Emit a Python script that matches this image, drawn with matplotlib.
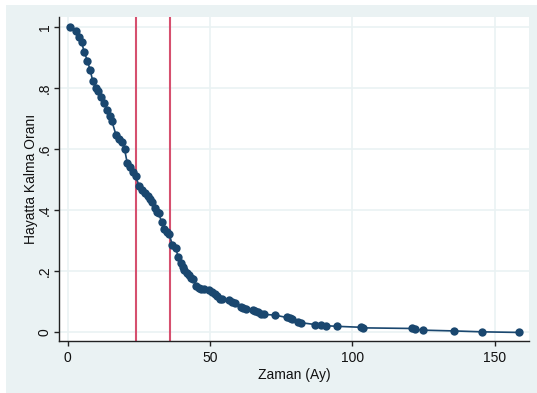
import numpy as np
import matplotlib
matplotlib.use("Agg")
import matplotlib.pyplot as plt
from matplotlib.patches import Rectangle

# survival estimates
zaman = [0.8, 2.8, 4.0, 4.9, 5.8, 6.9, 7.9, 8.8, 9.8, 10.8, 11.8, 12.9, 13.9, 14.9,
         15.5, 17.0, 18.0, 19.1, 20.0, 20.9, 21.9, 22.8, 23.9, 25.1, 26.1, 27.0,
         28.1, 28.9, 29.7, 30.7, 31.4, 32.0, 33.0, 33.8, 34.8, 35.7, 36.8, 37.9,
         38.9, 39.7, 40.4, 41.0, 41.8, 42.6, 43.4, 44.1, 45.1, 46.0, 46.9, 47.9,
         49.8, 50.8, 51.7, 52.6, 53.5, 54.1, 56.7, 57.6, 58.8, 60.9, 61.7, 62.7,
         65.0, 65.9, 67.0, 67.9, 68.9, 72.8, 76.9, 78.1, 78.9, 81.0, 81.9, 86.9,
         88.9, 90.9, 94.7, 102.9, 103.9, 121.1, 121.9, 124.8, 135.7, 145.7, 158.6]
oran = [1.0, 0.988, 0.966, 0.95, 0.919, 0.89, 0.859, 0.824, 0.80, 0.79, 0.77, 0.75,
        0.728, 0.708, 0.693, 0.646, 0.632, 0.624, 0.60, 0.556, 0.542, 0.526, 0.512,
        0.479, 0.468, 0.457, 0.446, 0.436, 0.426, 0.406, 0.393, 0.39, 0.362, 0.338,
        0.33, 0.321, 0.286, 0.277, 0.246, 0.226, 0.213, 0.204, 0.196, 0.188, 0.179,
        0.176, 0.152, 0.147, 0.143, 0.141, 0.139, 0.132, 0.125, 0.119, 0.111, 0.108,
        0.106, 0.100, 0.095, 0.084, 0.080, 0.077, 0.074, 0.071, 0.066, 0.062, 0.059,
        0.057, 0.049, 0.046, 0.044, 0.035, 0.032, 0.026, 0.023, 0.022, 0.020, 0.017,
        0.015, 0.013, 0.0098, 0.0075, 0.005, 0.002, 0.0]
dikey_cizgiler = [24, 36]

xticks = [0, 50, 100, 150]
yticks = [0, 0.2, 0.4, 0.6, 0.8, 1]
ytick_labels = ["0", ".2", ".4", ".6", ".8", "1"]

plt.rcParams['font.family'] = ['Liberation Sans', 'DejaVu Sans']

fig = plt.figure(figsize=(5.37, 3.93), dpi=100)
fig.patch.set_facecolor("white")
arka = Rectangle((6 / 537, 0), 1 - 6 / 537, 388 / 393,
                 transform=fig.transFigure, facecolor="#eaf2f3",
                 edgecolor="none", zorder=-10)
fig.add_artist(arka)

ax = fig.add_axes([59 / 537, 52 / 393, 470 / 537, 324 / 393])
ax.set_zorder(1)
ax.set_facecolor("white")

ax.plot(zaman, oran, color="#1a476f", lw=1.2, marker="o", markersize=6,
        markeredgewidth=0, zorder=3)
for xv in dikey_cizgiler:
    ax.axvline(xv, color="#d6506f", lw=1.5, zorder=2)

ax.set_xlim(-3.05, 162.1)
ax.set_ylim(-0.028, 1.033)
ax.set_xticks(xticks)
ax.set_yticks(yticks)
ax.set_yticklabels(ytick_labels, rotation=90, va="center")
ax.grid(True, color="#eaf2f3", lw=1.2, zorder=1)
ax.set_axisbelow(True)

for s in ["top", "right"]:
    ax.spines[s].set_visible(False)
for s in ["left", "bottom"]:
    ax.spines[s].set_color("#222222")
    ax.spines[s].set_linewidth(1.0)
ax.tick_params(direction="out", length=3.6, width=1, color="#222222",
               labelsize=10, labelcolor="#111111", pad=3.5)
ax.tick_params(axis="y", pad=1.5)

ax.set_xlabel("Zaman (Ay)", fontsize=10, color="#111111", labelpad=2)
ax.set_ylabel("Hayatta Kalma Oranı", fontsize=10, color="#111111")
ax.yaxis.set_label_coords(-21 / 470, 0.5)

fig.savefig("out.png", dpi=100, facecolor=fig.get_facecolor())
